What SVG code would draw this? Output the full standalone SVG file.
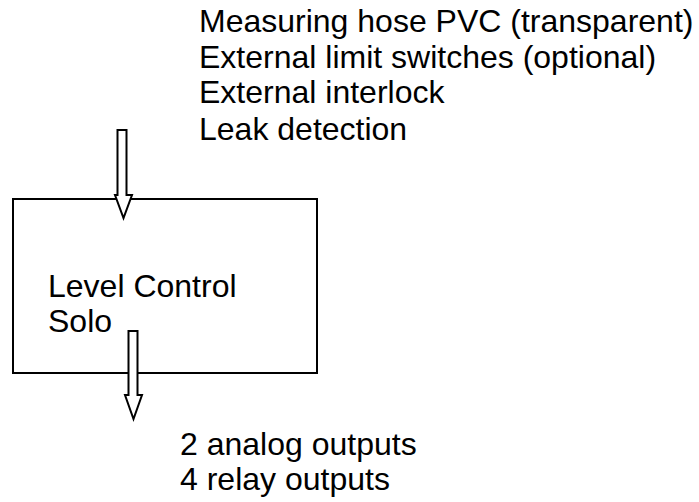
<svg xmlns="http://www.w3.org/2000/svg" width="699" height="502" viewBox="0 0 699 502">
<style>
text{font-family:"Liberation Sans",Arial,sans-serif;font-size:32px;fill:#000}
.s{fill:#fff;stroke:#000;stroke-width:2}
</style>
<rect width="699" height="502" fill="#fff"/>
<g id="inputs">
<text x="199" y="32">Measuring hose PVC (transparent)</text>
<text x="199" y="68">External limit switches (optional)</text>
<text x="199" y="103">External interlock</text>
<text x="199" y="140">Leak detection</text>
</g>
<g id="box">
<rect class="s" x="13" y="199" width="304" height="174"/>
<text x="48" y="297">Level Control</text>
<text x="48" y="332">Solo</text>
</g>
<g id="outputs">
<text x="180" y="455">2 analog outputs</text>
<text x="180" y="490">4 relay outputs</text>
</g>
<g id="connectors">
<path class="s" d="M117.5 130 H126.5 V195 H132 L123.5 218 L115 195 H117.5 Z"/>
<path class="s" d="M128.5 331 H137.5 V395 H142 L133.5 419 L125 395 H128.5 Z"/>
</g>
</svg>
